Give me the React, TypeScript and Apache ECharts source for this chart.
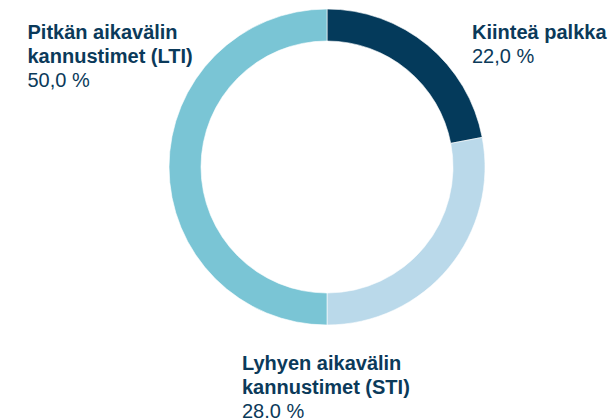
import React, { useEffect, useRef } from "react";
import * as echarts from "echarts";

const categories = ["Kiinteä palkka", "Lyhyen aikavälin\nkannustimet (STI)", "Pitkän aikavälin\nkannustimet (LTI)"];
const values = [22, 28, 50];
const valueLabels = ["22,0 %", "28.0 %", "50,0 %"];
const colors = ["#043A5B", "#BAD9EA", "#7AC5D5"];
const labelPos = [
  [472, 19.5],
  [242, 350.5],
  [27.5, 19.5],
];

export default function App() {
  const ref = useRef<HTMLDivElement>(null);
  useEffect(() => {
    if (!ref.current) return;
    const chart = echarts.init(ref.current, null, { renderer: "svg" });
    chart.setOption({
      animation: false,
      backgroundColor: "#ffffff",
      series: [
        {
          type: "pie",
          center: [327, 167],
          radius: [126, 158],
          startAngle: 90,
          clockwise: true,
          avoidLabelOverlap: false,
          labelLine: { show: false },
          itemStyle: { borderColor: "#ffffff", borderWidth: 0.6 },
          label: {
            show: true,
            position: "outside",
            fontFamily: "Liberation Sans, Arial, sans-serif",
            formatter: (p: any) => {
              const lines = String(p.name).split("\n").map((l: string) => `{b|${l}}`);
              return lines.join("\n") + `\n{v|${valueLabels[p.dataIndex]}}`;
            },
            rich: {
              b: {
                fontFamily: "Liberation Sans, Arial, sans-serif",
                fontSize: 20,
                fontWeight: "bold",
                color: "#0B3A5A",
                lineHeight: 24,
              },
              v: {
                fontFamily: "Liberation Sans, Arial, sans-serif",
                fontSize: 20,
                fontWeight: "normal",
                color: "#0B3A5A",
                lineHeight: 24,
              },
            },
          },
          labelLayout: (params: any) => ({
            x: labelPos[params.dataIndex][0],
            y: labelPos[params.dataIndex][1],
            align: "left",
            verticalAlign: "top",
          }),
          data: categories.map((c, i) => ({
            name: c,
            value: values[i],
            itemStyle: { color: colors[i] },
          })),
        },
      ],
    });
    return () => chart.dispose();
  }, []);
  return (
    <div
      ref={ref}
      style={{ position: "fixed", left: 0, top: 0, width: 608, height: 418 }}
    />
  );
}
